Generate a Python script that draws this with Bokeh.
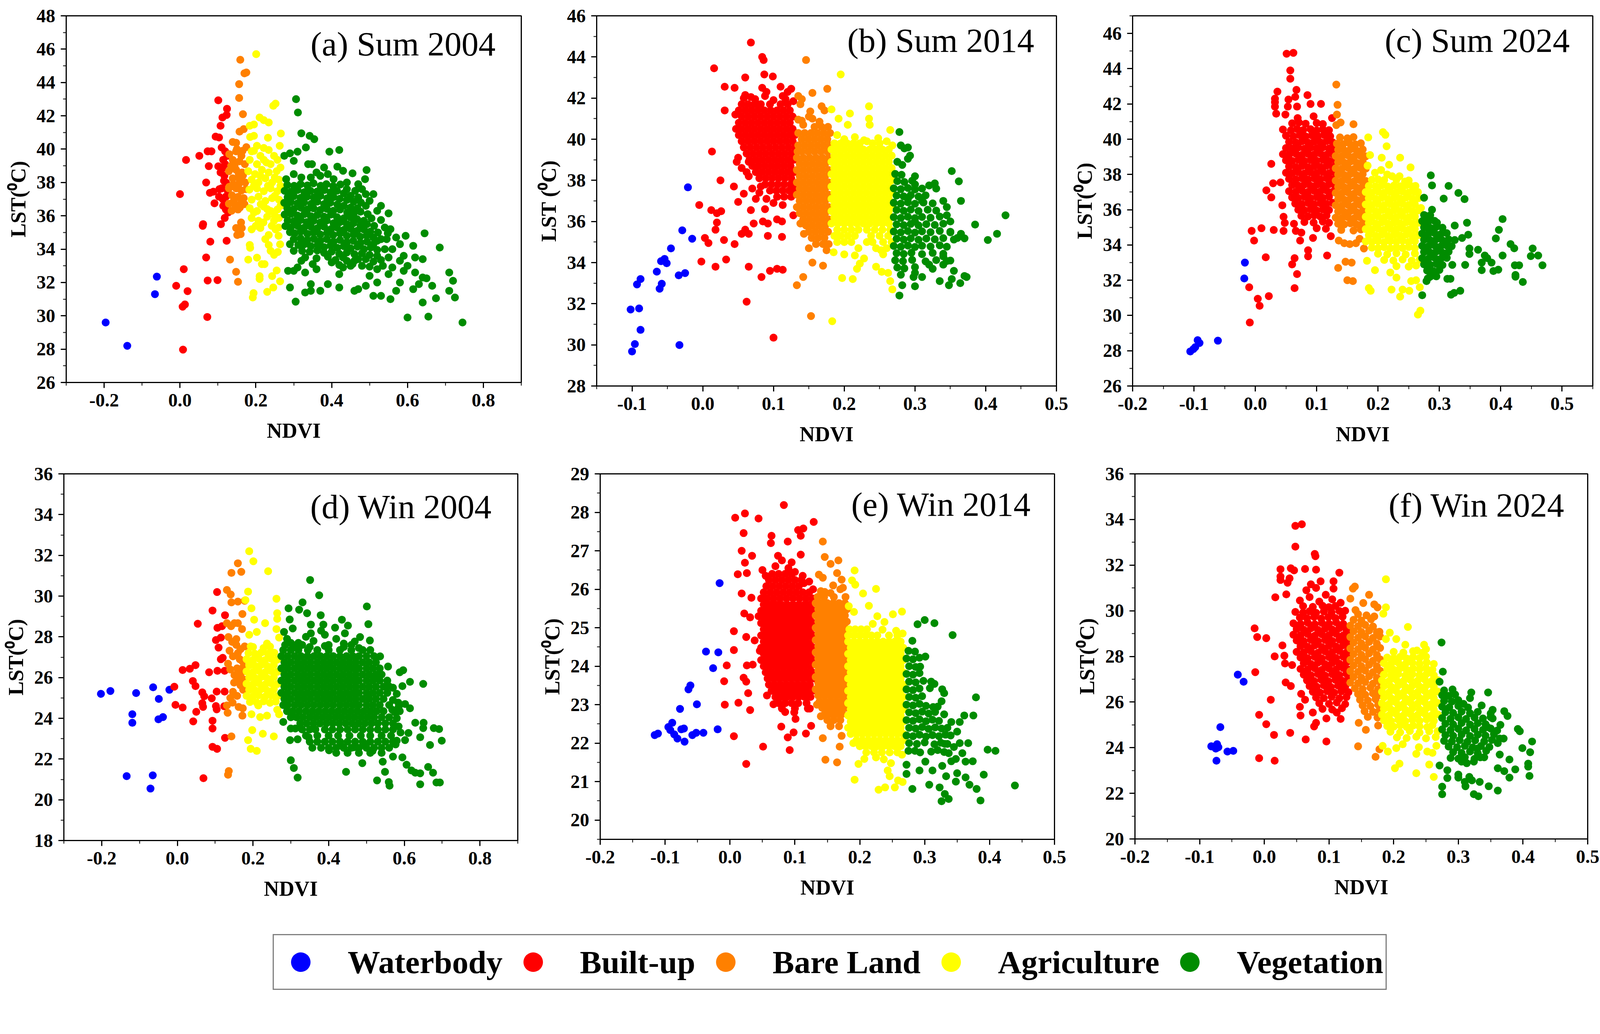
from bokeh.plotting import figure
from bokeh.models import (Range1d, FixedTicker, NumeralTickFormatter, Label,
                          Legend, LegendItem)
from bokeh.layouts import row, column
from bokeh.embed import file_html
from bokeh.resources import INLINE

S = 0.965  # overall pixel scale of the page

CLASSES = ["Waterbody", "Built-up", "Bare Land", "Agriculture", "Vegetation"]
COLORS = ["#0000ff", "#ff0000", "#ff8000", "#ffff00", "#008c00"]

# Each class: loose (NDVI, LST) points, plus for the dense cores rows of
# (LST, [NDVI, ...]).

# ---------------- (a) Sum 2004 ----------------
A_WATER = [(-0.196, 29.6), (-0.139, 28.2), (-0.066, 31.3), (-0.061, 32.35)]
A_BUILT = [
    (0.101, 42.93), (0.124, 42.42), (0.112, 41.9), (0.123, 42.05), (0.107, 41.4), (0.094, 40.75),
    (0.103, 40.7), (0.110, 40.1), (0.051, 39.6), (0.016, 39.35), (0.073, 39.87), (0.083, 39.87),
    (0.119, 39.87), (0.076, 38.98), (0.101, 38.97), (0.112, 38.85), (0.107, 38.6), (0.117, 38.4),
    (0.069, 38.0), (0.121, 38.0), (0.110, 37.65), (0.104, 37.6), (0.0, 37.3), (0.079, 37.38),
    (0.088, 37.45), (0.103, 37.15), (0.121, 37.15), (0.091, 36.75), (0.114, 36.6), (0.121, 36.38),
    (0.127, 36.2), (0.118, 35.87), (0.061, 35.5), (0.060, 35.4), (0.108, 35.5), (0.080, 34.45),
    (0.123, 34.5), (0.069, 33.5), (0.010, 32.8), (0.073, 32.12), (0.099, 32.14), (-0.010, 31.8),
    (0.020, 31.48), (0.013, 30.68), (0.007, 30.55), (0.072, 29.93), (0.008, 27.97), (0.114, 39.36),
    (0.119, 39.1), (0.125, 39.6), (0.116, 38.1), (0.113, 37.0), (0.126, 37.5)]
A_BARE = [
    (0.159, 45.36), (0.170, 44.55), (0.175, 44.6), (0.156, 43.9), (0.156, 43.07), (0.166, 42.1),
    (0.157, 41.05), (0.168, 41.2), (0.139, 40.43), (0.148, 40.38), (0.175, 40.12), (0.130, 39.7),
    (0.148, 39.87), (0.162, 39.6), (0.139, 39.36), (0.157, 39.27), (0.171, 39.1), (0.129, 38.68),
    (0.148, 38.76), (0.164, 38.6), (0.139, 38.25), (0.157, 38.17), (0.172, 38.0), (0.130, 37.74),
    (0.148, 37.65), (0.162, 37.52), (0.137, 37.23), (0.153, 37.14), (0.168, 37.06), (0.129, 36.72),
    (0.146, 36.63), (0.162, 36.8), (0.136, 36.3), (0.153, 36.38), (0.166, 38.42), (0.144, 39.0),
    (0.161, 35.6), (0.163, 35.27), (0.148, 35.27), (0.151, 34.85), (0.160, 34.9), (0.132, 33.37),
    (0.148, 32.64), (0.153, 32.04), (0.129, 37.65), (0.14, 37.9), (0.155, 38.5), (0.142, 36.9),
    (0.158, 36.5), (0.17, 36.7), (0.135, 39.0), (0.15, 40.0), (0.165, 39.9), (0.174, 37.6),
    (0.155, 37.9)]
A_AGRI = [
    (0.201, 45.7), (0.246, 42.6), (0.252, 42.73), (0.210, 41.9), (0.221, 41.74), (0.234, 41.6),
    (0.184, 41.4), (0.195, 41.48), (0.266, 40.94), (0.185, 40.73), (0.195, 40.8), (0.232, 40.68),
    (0.203, 40.2), (0.221, 40.07), (0.263, 40.2), (0.189, 39.87), (0.212, 39.6), (0.234, 39.95),
    (0.248, 39.6), (0.184, 39.36), (0.203, 39.1), (0.221, 39.36), (0.239, 39.1), (0.257, 39.36),
    (0.180, 38.68), (0.198, 38.5), (0.216, 38.76), (0.234, 38.6), (0.255, 38.68), (0.189, 38.17),
    (0.207, 38.0), (0.225, 38.25), (0.243, 38.0), (0.261, 38.17), (0.183, 37.57), (0.203, 37.65),
    (0.221, 37.48), (0.239, 37.65), (0.257, 37.48), (0.189, 36.97), (0.207, 37.15), (0.225, 36.89),
    (0.243, 37.06), (0.261, 36.97), (0.184, 36.46), (0.203, 36.29), (0.221, 36.55), (0.239, 36.29),
    (0.257, 36.38), (0.189, 35.87), (0.207, 35.7), (0.230, 35.95), (0.248, 35.7), (0.261, 35.87),
    (0.189, 35.19), (0.212, 35.27), (0.234, 34.85), (0.252, 35.19), (0.184, 34.25), (0.185, 34.08),
    (0.234, 34.25), (0.239, 33.9), (0.248, 33.66), (0.258, 33.83), (0.264, 34.29), (0.180, 33.37),
    (0.203, 33.49), (0.216, 33.1), (0.223, 33.1), (0.210, 32.38), (0.210, 32.21), (0.243, 32.38),
    (0.255, 32.72), (0.264, 32.07), (0.246, 31.7), (0.230, 31.44), (0.194, 31.36), (0.192, 31.1),
    (0.195, 39.9), (0.228, 39.2), (0.25, 38.3), (0.212, 38.4), (0.195, 37.8), (0.232, 37.8),
    (0.25, 37.2), (0.213, 36.7), (0.195, 36.2), (0.23, 36.4), (0.25, 36.0), (0.2, 35.4),
    (0.22, 35.6), (0.242, 35.4), (0.26, 35.3), (0.225, 34.6), (0.26, 34.8), (0.265, 38.9),
    (0.265, 37.8), (0.265, 36.6)]
A_VEG = [
    (0.306, 43.0), (0.311, 42.2), (0.320, 40.95), (0.342, 40.8), (0.354, 40.6), (0.332, 40.1),
    (0.394, 39.85), (0.42, 39.95), (0.31, 39.85), (0.29, 39.75), (0.275, 39.6), (0.30, 39.3),
    (0.338, 39.1), (0.348, 39.1), (0.38, 38.9), (0.415, 38.95), (0.43, 38.7), (0.455, 38.55),
    (0.492, 38.75), (0.488, 38.2), (0.36, 38.6), (0.37, 38.4), (0.39, 38.5), (0.405, 38.2),
    (0.44, 38.0), (0.47, 37.9), (0.28, 38.2), (0.30, 38.5), (0.32, 38.3), (0.345, 38.3),
    (0.283, 37.85), (0.301, 37.8), (0.318, 37.9), (0.336, 37.82), (0.352, 37.95), (0.371, 37.8),
    (0.386, 37.9), (0.404, 37.78), (0.423, 37.88), (0.44, 37.6), (0.462, 37.5), (0.48, 37.6),
    (0.276, 37.5), (0.293, 37.45), (0.31, 37.55), (0.328, 37.42), (0.344, 37.5), (0.362, 37.46),
    (0.381, 37.55), (0.397, 37.4), (0.414, 37.5), (0.432, 37.35), (0.45, 37.2), (0.47, 37.1),
    (0.49, 37.3), (0.284, 37.12), (0.30, 37.18), (0.318, 37.08), (0.335, 37.15), (0.353, 37.1),
    (0.37, 37.2), (0.388, 37.05), (0.405, 37.12), (0.421, 37.02), (0.44, 36.95), (0.458, 36.85),
    (0.477, 36.8), (0.275, 36.78), (0.292, 36.82), (0.31, 36.75), (0.327, 36.8), (0.346, 36.72),
    (0.362, 36.85), (0.38, 36.7), (0.396, 36.78), (0.415, 36.68), (0.432, 36.6), (0.45, 36.5),
    (0.468, 36.45), (0.49, 36.6), (0.5, 36.9), (0.283, 36.45), (0.30, 36.4), (0.319, 36.48),
    (0.336, 36.38), (0.352, 36.45), (0.37, 36.35), (0.387, 36.42), (0.404, 36.3), (0.422, 36.38),
    (0.441, 36.2), (0.458, 36.15), (0.476, 36.25), (0.495, 36.1), (0.52, 36.3), (0.276, 36.08),
    (0.293, 36.12), (0.31, 36.02), (0.328, 36.1), (0.345, 35.98), (0.362, 36.05), (0.38, 35.95),
    (0.398, 36.08), (0.414, 35.92), (0.432, 35.85), (0.45, 35.9), (0.467, 35.8), (0.485, 35.7),
    (0.505, 35.85), (0.53, 35.75), (0.284, 35.72), (0.30, 35.68), (0.318, 35.75), (0.334, 35.62),
    (0.352, 35.7), (0.37, 35.6), (0.387, 35.72), (0.405, 35.55), (0.422, 35.62), (0.44, 35.5),
    (0.457, 35.55), (0.476, 35.42), (0.493, 35.5), (0.512, 35.4), (0.54, 35.3), (0.278, 35.38),
    (0.292, 35.3), (0.31, 35.4), (0.327, 35.28), (0.345, 35.35), (0.362, 35.25), (0.38, 35.35),
    (0.398, 35.2), (0.414, 35.3), (0.432, 35.15), (0.45, 35.22), (0.467, 35.1), (0.485, 35.18),
    (0.502, 35.05), (0.522, 35.0), (0.548, 34.95), (0.29, 35.02), (0.302, 34.95), (0.318, 35.05),
    (0.336, 34.92), (0.352, 35.0), (0.37, 34.88), (0.388, 34.98), (0.404, 34.85), (0.422, 34.95),
    (0.44, 34.8), (0.458, 34.88), (0.475, 34.75), (0.492, 34.82), (0.51, 34.7), (0.53, 34.6),
    (0.30, 34.6), (0.318, 34.65), (0.336, 34.55), (0.353, 34.62), (0.37, 34.5), (0.387, 34.6),
    (0.405, 34.45), (0.422, 34.55), (0.44, 34.42), (0.457, 34.5), (0.476, 34.38), (0.493, 34.45),
    (0.51, 34.3), (0.52, 34.5), (0.312, 34.25), (0.328, 34.3), (0.345, 34.18), (0.363, 34.25),
    (0.38, 34.12), (0.397, 34.22), (0.415, 34.08), (0.432, 34.18), (0.45, 34.05), (0.468, 34.15),
    (0.485, 34.0), (0.503, 34.1), (0.52, 33.95), (0.54, 34.0), (0.322, 33.9), (0.342, 33.85),
    (0.362, 33.92), (0.38, 33.78), (0.40, 33.85), (0.42, 33.72), (0.44, 33.8), (0.46, 33.7),
    (0.48, 33.75), (0.50, 33.65), (0.52, 33.6), (0.33, 33.5), (0.36, 33.45), (0.39, 33.55),
    (0.41, 33.35), (0.43, 33.5), (0.46, 33.3), (0.49, 33.4), (0.51, 33.25), (0.53, 33.35),
    (0.35, 33.1), (0.40, 33.2), (0.42, 33.05), (0.45, 33.0), (0.50, 32.95), (0.52, 32.8),
    (0.51, 37.3), (0.53, 36.6), (0.55, 36.15), (0.555, 35.2), (0.57, 34.7), (0.58, 34.3),
    (0.595, 34.8), (0.615, 34.2), (0.645, 34.95), (0.685, 34.1), (0.59, 33.6), (0.62, 33.5),
    (0.64, 33.4), (0.60, 33.0), (0.62, 32.6), (0.64, 32.3), (0.65, 32.25), (0.665, 31.8),
    (0.71, 32.6), (0.72, 32.1), (0.71, 31.5), (0.725, 31.1), (0.675, 31.05), (0.615, 31.6),
    (0.63, 31.9), (0.64, 30.8), (0.60, 29.9), (0.655, 29.95), (0.745, 29.6), (0.555, 31.0),
    (0.57, 31.5), (0.58, 32.0), (0.55, 32.5), (0.53, 31.2), (0.51, 31.2), (0.52, 32.0),
    (0.49, 31.8), (0.50, 32.4), (0.47, 31.6), (0.46, 31.5), (0.42, 31.7), (0.39, 31.9),
    (0.37, 31.5), (0.345, 31.5), (0.33, 31.4), (0.305, 30.85), (0.29, 31.7), (0.285, 32.7),
    (0.30, 32.7), (0.345, 31.9), (0.42, 32.5), (0.43, 32.9), (0.44, 33.3), (0.455, 33.1),
    (0.48, 33.0), (0.47, 33.4), (0.535, 33.0), (0.55, 33.5), (0.56, 34.0), (0.545, 34.6),
    (0.56, 32.9), (0.59, 32.7), (0.58, 33.3), (0.36, 32.8), (0.32, 33.3), (0.30, 33.9),
    (0.29, 34.3), (0.31, 32.9), (0.33, 32.6)]

# ---------------- (b) Sum 2014 ----------------
B_WATER = [
    (-0.1, 29.68), (-0.096, 30.04), (-0.102, 31.72), (-0.090, 31.77), (-0.088, 30.73), (-0.093, 32.94),
    (-0.088, 33.2), (-0.061, 32.73), (-0.058, 32.97), (-0.065, 33.56), (-0.059, 34.07), (-0.054, 34.18),
    (-0.051, 33.97), (-0.045, 34.69), (-0.034, 33.38), (-0.025, 33.49), (-0.029, 35.57), (-0.015, 35.16),
    (-0.021, 37.66), (-0.033, 29.99)]
B_BUILT = [
    (0.068, 44.7), (0.084, 44.0), (0.086, 43.85), (0.016, 43.45), (0.06, 43.0), (0.087, 43.15),
    (0.099, 43.05), (0.031, 42.55), (0.045, 42.5), (0.084, 42.5), (0.11, 42.55), (0.12, 42.3),
    (0.125, 42.45), (0.06, 42.15), (0.068, 42.05), (0.088, 42.1), (0.031, 41.4), (0.077, 41.7),
    (0.117, 41.95), (0.013, 39.4), (0.05, 39.1), (0.048, 38.9), (0.025, 38.0), (0.065, 38.2),
    (0.044, 37.7), (0.058, 37.35), (0.075, 37.1), (0.09, 37.1), (-0.005, 36.8), (0.012, 36.55),
    (0.02, 36.4), (0.026, 36.5), (0.05, 36.95), (0.068, 36.55), (0.088, 36.6), (0.1, 36.9),
    (0.113, 36.8), (0.128, 36.3), (0.02, 35.95), (0.018, 35.6), (0.055, 35.4), (0.06, 35.6),
    (0.065, 35.4), (0.072, 35.9), (0.085, 36.0), (0.092, 35.9), (0.105, 36.1), (0.112, 36.0),
    (0.003, 35.2), (0.008, 34.95), (0.03, 35.1), (0.045, 34.9), (0.092, 35.3), (0.112, 35.25),
    (-0.002, 34.05), (0.018, 33.8), (0.033, 34.15), (0.065, 33.8), (0.095, 33.6), (0.105, 33.7),
    (0.113, 33.65), (0.083, 33.3), (0.062, 32.1), (0.1, 30.35), (0.065, 38.9), (0.062, 38.4),
    (0.07, 37.6), (0.08, 37.4), (0.058, 42.0), (0.074, 41.95), (0.1, 41.9), (0.113, 42.1),
    (0.128, 41.85), (0.09, 42.3), (0.047, 40.5), (0.046, 41.2), (0.055, 38.6), (0.082, 37.7)]
B_BUILT_ROWS = [
    (41.7, [0.055, 0.064, 0.073, 0.082, 0.095, 0.11, 0.12]),
    (41.4, [0.051, 0.06, 0.069, 0.078, 0.087, 0.096, 0.105, 0.114, 0.123]),
    (41.1, [0.055, 0.064, 0.073, 0.082, 0.091, 0.1, 0.109, 0.118, 0.127]),
    (40.8, [0.051, 0.06, 0.069, 0.078, 0.087, 0.096, 0.105, 0.114, 0.123]),
    (40.5, [0.055, 0.064, 0.073, 0.082, 0.091, 0.1, 0.109, 0.118, 0.127]),
    (40.2, [0.051, 0.06, 0.069, 0.078, 0.087, 0.096, 0.105, 0.114, 0.123, 0.13]),
    (39.9, [0.055, 0.064, 0.073, 0.082, 0.091, 0.1, 0.109, 0.118, 0.127]),
    (39.6, [0.058, 0.067, 0.076, 0.085, 0.094, 0.103, 0.112, 0.121, 0.13]),
    (39.3, [0.062, 0.071, 0.08, 0.089, 0.098, 0.107, 0.116, 0.125]),
    (39.0, [0.066, 0.075, 0.084, 0.093, 0.102, 0.111, 0.12, 0.129]),
    (38.7, [0.07, 0.079, 0.088, 0.097, 0.106, 0.115, 0.124]),
    (38.4, [0.075, 0.084, 0.093, 0.102, 0.111, 0.12, 0.129]),
    (38.1, [0.08, 0.089, 0.098, 0.107, 0.116, 0.125]),
    (37.8, [0.088, 0.097, 0.106, 0.115, 0.124, 0.13]),
    (37.5, [0.095, 0.104, 0.113, 0.122, 0.13]),
    (37.2, [0.105, 0.115, 0.125])]
B_BARE = [
    (0.146, 43.85), (0.176, 42.45), (0.155, 42.25), (0.135, 42.1), (0.14, 41.95), (0.138, 41.7),
    (0.168, 41.6), (0.172, 41.4), (0.152, 41.35), (0.155, 41.0), (0.14, 40.9), (0.135, 40.95),
    (0.142, 33.3), (0.133, 32.9), (0.153, 31.4), (0.155, 34.0), (0.17, 33.85), (0.175, 34.6),
    (0.142, 40.7), (0.165, 40.85), (0.15, 41.1), (0.138, 35.9), (0.143, 35.4), (0.15, 34.7)]
B_BARE_ROWS = [
    (40.6, [0.158, 0.168, 0.177]),
    (40.3, [0.135, 0.144, 0.153, 0.162, 0.171, 0.18]),
    (40.0, [0.14, 0.149, 0.158, 0.167, 0.176]),
    (39.7, [0.135, 0.144, 0.153, 0.162, 0.171, 0.18]),
    (39.4, [0.134, 0.14, 0.149, 0.158, 0.167, 0.176]),
    (39.1, [0.133, 0.142, 0.151, 0.16, 0.169, 0.178]),
    (38.8, [0.137, 0.146, 0.155, 0.164, 0.173]),
    (38.5, [0.133, 0.142, 0.151, 0.16, 0.169, 0.178]),
    (38.2, [0.137, 0.146, 0.155, 0.164, 0.173]),
    (37.9, [0.133, 0.142, 0.151, 0.16, 0.169, 0.178]),
    (37.6, [0.137, 0.146, 0.155, 0.164, 0.173]),
    (37.3, [0.133, 0.142, 0.151, 0.16, 0.169, 0.178]),
    (37.0, [0.137, 0.146, 0.155, 0.164, 0.173]),
    (36.7, [0.133, 0.142, 0.151, 0.16, 0.169, 0.178]),
    (36.4, [0.137, 0.146, 0.155, 0.164, 0.173]),
    (36.1, [0.142, 0.151, 0.16, 0.169, 0.178]),
    (35.8, [0.146, 0.155, 0.164, 0.173]),
    (35.5, [0.15, 0.159, 0.168, 0.177]),
    (35.2, [0.154, 0.163, 0.172]),
    (34.9, [0.16, 0.17, 0.178])]
B_AGRI = [
    (0.195, 43.15), (0.235, 41.6), (0.182, 41.45), (0.208, 41.25), (0.192, 41.0), (0.235, 41.0),
    (0.236, 40.7), (0.205, 40.7), (0.265, 40.45), (0.19, 40.2), (0.232, 39.9), (0.2, 34.4),
    (0.215, 34.35), (0.228, 34.2), (0.222, 33.95), (0.218, 33.7), (0.255, 34.4), (0.262, 33.5),
    (0.253, 33.55), (0.245, 33.8), (0.265, 33.1), (0.268, 32.7), (0.197, 33.25), (0.212, 33.2),
    (0.183, 31.15), (0.185, 34.5), (0.19, 35.0), (0.2, 40.0), (0.215, 40.1), (0.228, 39.95),
    (0.248, 40.05), (0.26, 39.9), (0.268, 39.7), (0.186, 35.3), (0.232, 35.0), (0.252, 34.6)]
B_AGRI_ROWS = [
    (39.8, [0.186, 0.195, 0.204, 0.213, 0.222, 0.24, 0.25]),
    (39.5, [0.182, 0.191, 0.2, 0.209, 0.218, 0.227, 0.236, 0.245, 0.254, 0.263]),
    (39.2, [0.186, 0.195, 0.204, 0.213, 0.222, 0.231, 0.24, 0.249, 0.258, 0.267]),
    (38.9, [0.182, 0.191, 0.2, 0.209, 0.218, 0.227, 0.236, 0.245, 0.254, 0.263]),
    (38.6, [0.186, 0.195, 0.204, 0.213, 0.222, 0.231, 0.24, 0.249, 0.258, 0.267]),
    (38.3, [0.182, 0.191, 0.2, 0.209, 0.218, 0.227, 0.236, 0.245, 0.254, 0.263]),
    (38.0, [0.186, 0.195, 0.204, 0.213, 0.222, 0.231, 0.24, 0.249, 0.258, 0.267]),
    (37.7, [0.182, 0.191, 0.2, 0.209, 0.218, 0.227, 0.236, 0.245, 0.254, 0.263]),
    (37.4, [0.186, 0.195, 0.204, 0.213, 0.222, 0.231, 0.24, 0.249, 0.258, 0.267]),
    (37.1, [0.182, 0.191, 0.2, 0.209, 0.218, 0.227, 0.236, 0.245, 0.254, 0.263]),
    (36.8, [0.186, 0.195, 0.204, 0.213, 0.222, 0.231, 0.24, 0.249, 0.258, 0.267]),
    (36.5, [0.182, 0.191, 0.2, 0.209, 0.218, 0.227, 0.236, 0.245, 0.254, 0.263]),
    (36.2, [0.186, 0.195, 0.204, 0.213, 0.222, 0.231, 0.24, 0.249, 0.258, 0.267]),
    (35.9, [0.182, 0.191, 0.2, 0.209, 0.218, 0.227, 0.236, 0.245, 0.254, 0.263]),
    (35.6, [0.19, 0.2, 0.21, 0.22, 0.232, 0.243, 0.254, 0.265]),
    (35.3, [0.195, 0.205, 0.215, 0.238, 0.25, 0.262]),
    (35.0, [0.2, 0.21, 0.24, 0.255, 0.267]),
    (34.7, [0.22, 0.245, 0.26])]
B_VEG = [
    (0.278, 40.35), (0.28, 39.7), (0.285, 39.55), (0.29, 39.6), (0.293, 39.2), (0.29, 39.05),
    (0.275, 38.9), (0.282, 38.75), (0.352, 38.45), (0.362, 37.95), (0.365, 37.0), (0.385, 35.85),
    (0.403, 35.1), (0.416, 35.4), (0.428, 36.3), (0.278, 32.4), (0.282, 32.9), (0.3, 32.85),
    (0.335, 33.1), (0.348, 32.9), (0.352, 33.2), (0.364, 33.0), (0.37, 33.35), (0.373, 33.3),
    (0.325, 33.7), (0.298, 33.3), (0.3, 33.5),
    (0.272, 38.31), (0.281, 38.27), (0.275, 37.96), (0.285, 37.92), (0.296, 37.98), (0.27, 37.61),
    (0.28, 37.57), (0.29, 37.63), (0.3, 37.56), (0.274, 37.26), (0.284, 37.22), (0.294, 37.28),
    (0.305, 37.21), (0.315, 37.27), (0.27, 36.91), (0.28, 36.87), (0.29, 36.93), (0.3, 36.86),
    (0.312, 36.92), (0.325, 36.88), (0.274, 36.56), (0.284, 36.52), (0.294, 36.58), (0.305, 36.51),
    (0.318, 36.57), (0.33, 36.53), (0.27, 36.21), (0.28, 36.17), (0.29, 36.23), (0.3, 36.16),
    (0.31, 36.22), (0.322, 36.18), (0.335, 36.24), (0.274, 35.86), (0.284, 35.82), (0.294, 35.88),
    (0.305, 35.81), (0.316, 35.87), (0.328, 35.83), (0.34, 35.89), (0.27, 35.51), (0.28, 35.47),
    (0.29, 35.53), (0.3, 35.46), (0.31, 35.52), (0.322, 35.48), (0.335, 35.54), (0.35, 35.47),
    (0.274, 35.16), (0.284, 35.12), (0.294, 35.18), (0.305, 35.11), (0.316, 35.17), (0.328, 35.13),
    (0.34, 35.19), (0.355, 35.12), (0.37, 35.18), (0.27, 34.81), (0.28, 34.77), (0.29, 34.83),
    (0.3, 34.76), (0.31, 34.82), (0.322, 34.78), (0.335, 34.84), (0.345, 34.77), (0.274, 34.46),
    (0.284, 34.42), (0.295, 34.48), (0.31, 34.41), (0.325, 34.47), (0.34, 34.43), (0.272, 34.11),
    (0.283, 34.07), (0.296, 34.13), (0.315, 34.06), (0.33, 34.12), (0.345, 34.08), (0.275, 33.76),
    (0.285, 33.72), (0.3, 33.78), (0.28, 33.41),
    (0.3, 37.8), (0.31, 37.6), (0.32, 37.75), (0.33, 37.6), (0.328, 37.85), (0.31, 37.0),
    (0.34, 37.0), (0.345, 36.7), (0.35, 36.0), (0.35, 35.5), (0.36, 35.2), (0.365, 35.4),
    (0.345, 36.3), (0.34, 34.3), (0.35, 34.1), (0.355, 33.6), (0.34, 33.9), (0.32, 33.9),
    (0.31, 33.3), (0.29, 37.1), (0.3, 38.2), (0.3, 36.0)]

# ---------------- (c) Sum 2024 ----------------
C_WATER = [(-0.106, 27.96), (-0.101, 28.09), (-0.098, 28.2), (-0.094, 28.6), (-0.091, 28.44),
           (-0.061, 28.57), (-0.017, 33.0), (-0.018, 32.1)]
C_BUILT = [
    (0.051, 44.85), (0.062, 44.9), (0.057, 43.9), (0.057, 43.43), (0.036, 42.7), (0.067, 42.8),
    (0.085, 42.5), (0.032, 42.3), (0.032, 42.1), (0.054, 42.25), (0.065, 42.4), (0.090, 42.0),
    (0.107, 42.0), (0.032, 41.85), (0.053, 41.85), (0.068, 41.85), (0.034, 41.45), (0.049, 41.4),
    (0.069, 41.2), (0.095, 41.3), (0.125, 41.2), (0.026, 38.6), (0.029, 37.5), (0.041, 37.55),
    (0.018, 37.1), (0.026, 36.7), (0.044, 36.25), (0.046, 35.6), (0.048, 35.25), (0.010, 34.95),
    (0.030, 34.85), (-0.006, 34.8), (-0.002, 34.25), (0.046, 34.8), (0.063, 35.2), (0.066, 34.8),
    (0.075, 34.7), (0.073, 34.25), (0.094, 34.4), (0.123, 34.5), (0.017, 33.3), (0.086, 33.7),
    (0.086, 33.36), (0.117, 33.4), (0.064, 33.25), (0.060, 32.9), (0.068, 32.35), (0.064, 31.55),
    (0.022, 31.1), (-0.010, 31.6), (0.004, 30.95), (0.007, 30.55), (-0.009, 29.6),
    (0.06, 40.9), (0.071, 40.95), (0.082, 40.88), (0.1, 40.92), (0.11, 40.86), (0.045, 40.55),
    (0.058, 40.5), (0.068, 40.58), (0.078, 40.52), (0.09, 40.57), (0.1, 40.5), (0.11, 40.56),
    (0.12, 40.51), (0.05, 40.2), (0.062, 40.17), (0.072, 40.23), (0.082, 40.16), (0.092, 40.22),
    (0.102, 40.18), (0.112, 40.24), (0.122, 40.17), (0.055, 39.85), (0.066, 39.82), (0.076, 39.88),
    (0.086, 39.81), (0.096, 39.87), (0.106, 39.83), (0.116, 39.89), (0.126, 39.82), (0.05, 39.5),
    (0.06, 39.47), (0.07, 39.53), (0.08, 39.46), (0.09, 39.52), (0.1, 39.48), (0.11, 39.54),
    (0.12, 39.47), (0.13, 39.52), (0.045, 39.15), (0.055, 39.12), (0.066, 39.18), (0.076, 39.11),
    (0.086, 39.17), (0.096, 39.13), (0.106, 39.19), (0.116, 39.12), (0.126, 39.16), (0.05, 38.8),
    (0.06, 38.77), (0.07, 38.83), (0.08, 38.76), (0.09, 38.82), (0.1, 38.78), (0.11, 38.84),
    (0.12, 38.77), (0.13, 38.81), (0.055, 38.45), (0.066, 38.42), (0.076, 38.48), (0.086, 38.41),
    (0.096, 38.47), (0.106, 38.43), (0.116, 38.49), (0.126, 38.42), (0.05, 38.1), (0.06, 38.07),
    (0.07, 38.13), (0.08, 38.06), (0.09, 38.12), (0.1, 38.08), (0.11, 38.14), (0.12, 38.07),
    (0.13, 38.11), (0.055, 37.75), (0.066, 37.72), (0.076, 37.78), (0.086, 37.71), (0.096, 37.77),
    (0.106, 37.73), (0.116, 37.79), (0.126, 37.72), (0.06, 37.4), (0.07, 37.37), (0.08, 37.43),
    (0.09, 37.36), (0.1, 37.42), (0.11, 37.38), (0.12, 37.44), (0.13, 37.37), (0.055, 37.05),
    (0.066, 37.02), (0.076, 37.08), (0.086, 37.01), (0.096, 37.07), (0.106, 37.03), (0.116, 37.09),
    (0.126, 37.02), (0.06, 36.7), (0.07, 36.67), (0.08, 36.73), (0.09, 36.66), (0.1, 36.72),
    (0.11, 36.68), (0.12, 36.74), (0.065, 36.35), (0.076, 36.32), (0.086, 36.38), (0.096, 36.31),
    (0.106, 36.37), (0.116, 36.33), (0.126, 36.39), (0.07, 36.0), (0.08, 35.97), (0.09, 36.03),
    (0.1, 35.96), (0.11, 36.02), (0.12, 35.98), (0.075, 35.65), (0.086, 35.62), (0.096, 35.68),
    (0.106, 35.61), (0.116, 35.67), (0.08, 35.3), (0.095, 35.27), (0.11, 35.33), (0.12, 35.26),
    (0.1, 34.95), (0.115, 34.92)]
C_BARE = [
    (0.132, 43.1), (0.134, 41.95), (0.133, 41.4), (0.139, 40.95), (0.132, 40.8), (0.160, 40.85),
    (0.135, 32.7), (0.147, 33.05), (0.157, 33.0), (0.150, 32.0), (0.159, 31.95), (0.136, 34.25),
    (0.145, 34.1), (0.154, 34.05), (0.164, 34.1), (0.17, 34.35), (0.177, 33.8),
    (0.138, 40.1), (0.15, 40.05), (0.16, 40.12), (0.133, 39.75), (0.143, 39.72), (0.153, 39.78),
    (0.163, 39.71), (0.172, 39.77), (0.135, 39.4), (0.145, 39.37), (0.155, 39.43), (0.165, 39.36),
    (0.175, 39.42), (0.131, 39.05), (0.141, 39.02), (0.151, 39.08), (0.161, 39.01), (0.171, 39.07),
    (0.18, 39.03), (0.135, 38.7), (0.145, 38.67), (0.155, 38.73), (0.165, 38.66), (0.175, 38.72),
    (0.131, 38.35), (0.141, 38.32), (0.151, 38.38), (0.161, 38.31), (0.171, 38.37), (0.18, 38.33),
    (0.135, 38.0), (0.145, 37.97), (0.155, 38.03), (0.165, 37.96), (0.175, 38.02), (0.131, 37.65),
    (0.141, 37.62), (0.151, 37.68), (0.161, 37.61), (0.171, 37.67), (0.18, 37.63), (0.135, 37.3),
    (0.145, 37.27), (0.155, 37.33), (0.165, 37.26), (0.175, 37.32), (0.131, 36.95), (0.141, 36.92),
    (0.151, 36.98), (0.161, 36.91), (0.171, 36.97), (0.18, 36.93), (0.135, 36.6), (0.145, 36.57),
    (0.155, 36.63), (0.165, 36.56), (0.175, 36.62), (0.131, 36.25), (0.141, 36.22), (0.151, 36.28),
    (0.161, 36.21), (0.171, 36.27), (0.18, 36.23), (0.135, 35.9), (0.145, 35.87), (0.155, 35.93),
    (0.165, 35.86), (0.175, 35.92), (0.131, 35.55), (0.141, 35.52), (0.151, 35.58), (0.161, 35.51),
    (0.171, 35.57), (0.135, 35.2), (0.145, 35.17), (0.155, 35.23), (0.165, 35.16), (0.175, 35.22),
    (0.14, 34.85), (0.16, 34.82), (0.172, 34.88)]
C_AGRI = [
    (0.208, 40.4), (0.212, 40.25), (0.184, 40.1), (0.214, 39.6), (0.187, 39.1), (0.206, 38.95),
    (0.236, 38.95), (0.218, 38.55), (0.253, 38.4), (0.205, 38.25), (0.223, 37.9), (0.235, 37.9),
    (0.244, 37.6), (0.261, 37.35), (0.265, 37.0), (0.182, 33.1), (0.195, 32.57), (0.220, 32.44),
    (0.230, 32.15), (0.185, 31.55), (0.188, 31.4), (0.222, 31.47), (0.236, 31.07), (0.240, 31.47),
    (0.251, 31.4), (0.254, 31.95), (0.262, 32.0), (0.268, 31.6), (0.265, 30.05), (0.269, 30.27),
    (0.19, 37.7), (0.2, 37.72), (0.21, 37.68), (0.23, 37.71), (0.25, 37.66), (0.185, 37.35),
    (0.196, 37.32), (0.206, 37.38), (0.216, 37.31), (0.226, 37.37), (0.236, 37.33), (0.246, 37.39),
    (0.256, 37.32), (0.18, 37.0), (0.19, 36.97), (0.2, 37.03), (0.21, 36.96), (0.22, 37.02),
    (0.23, 36.98), (0.24, 37.04), (0.25, 36.97), (0.26, 37.01), (0.185, 36.65), (0.196, 36.62),
    (0.206, 36.68), (0.216, 36.61), (0.226, 36.67), (0.236, 36.63), (0.246, 36.69), (0.256, 36.62),
    (0.266, 36.66), (0.18, 36.3), (0.19, 36.27), (0.2, 36.33), (0.21, 36.26), (0.22, 36.32),
    (0.23, 36.28), (0.24, 36.34), (0.25, 36.27), (0.26, 36.31), (0.185, 35.95), (0.196, 35.92),
    (0.206, 35.98), (0.216, 35.91), (0.226, 35.97), (0.236, 35.93), (0.246, 35.99), (0.256, 35.92),
    (0.266, 35.96), (0.18, 35.6), (0.19, 35.57), (0.2, 35.63), (0.21, 35.56), (0.22, 35.62),
    (0.23, 35.58), (0.24, 35.64), (0.25, 35.57), (0.26, 35.61), (0.185, 35.25), (0.196, 35.22),
    (0.206, 35.28), (0.216, 35.21), (0.226, 35.27), (0.236, 35.23), (0.246, 35.29), (0.256, 35.22),
    (0.266, 35.26), (0.18, 34.9), (0.19, 34.87), (0.2, 34.93), (0.21, 34.86), (0.22, 34.92),
    (0.23, 34.88), (0.24, 34.94), (0.25, 34.87), (0.26, 34.91), (0.185, 34.55), (0.196, 34.52),
    (0.206, 34.58), (0.216, 34.51), (0.226, 34.57), (0.236, 34.53), (0.246, 34.59), (0.256, 34.52),
    (0.266, 34.56), (0.18, 34.2), (0.19, 34.17), (0.2, 34.23), (0.21, 34.16), (0.22, 34.22),
    (0.23, 34.18), (0.24, 34.24), (0.25, 34.17), (0.26, 34.21), (0.19, 33.85), (0.2, 33.82),
    (0.21, 33.88), (0.22, 33.81), (0.23, 33.87), (0.24, 33.83), (0.25, 33.89), (0.26, 33.82),
    (0.2, 33.5), (0.215, 33.47), (0.23, 33.53), (0.245, 33.46), (0.26, 33.52), (0.21, 33.15),
    (0.225, 33.12), (0.24, 33.18), (0.255, 33.11), (0.268, 33.17), (0.23, 32.8), (0.25, 32.77),
    (0.262, 32.83), (0.195, 38.1), (0.183, 38.5), (0.215, 38.0), (0.27, 36.1)]
C_VEG = [
    (0.286, 37.95), (0.288, 37.38), (0.275, 36.68), (0.315, 37.35), (0.331, 36.95), (0.341, 36.6),
    (0.307, 36.63), (0.288, 36.0), (0.277, 35.66), (0.296, 35.26), (0.278, 35.18), (0.282, 34.94),
    (0.325, 35.1), (0.345, 35.26), (0.347, 34.58), (0.403, 35.47), (0.397, 34.86), (0.392, 34.37),
    (0.416, 34.05), (0.422, 33.81), (0.403, 33.4), (0.452, 33.8), (0.449, 33.37), (0.461, 33.4),
    (0.468, 32.85), (0.349, 33.8), (0.349, 33.49), (0.363, 33.73), (0.374, 33.4), (0.369, 33.0),
    (0.369, 32.57), (0.378, 33.25), (0.385, 33.0), (0.388, 32.52), (0.396, 32.6), (0.423, 32.85),
    (0.424, 32.3), (0.43, 32.85), (0.424, 32.2), (0.436, 31.9), (0.342, 32.87), (0.321, 32.87),
    (0.318, 32.08), (0.313, 32.08), (0.319, 31.18), (0.324, 31.28), (0.334, 31.4), (0.272, 31.15),
    (0.279, 31.95), (0.281, 32.1), (0.337, 34.4),
    (0.275, 35.7), (0.285, 35.68), (0.272, 35.35), (0.282, 35.33), (0.292, 35.37), (0.275, 35.0),
    (0.285, 34.97), (0.295, 35.03), (0.305, 34.98), (0.272, 34.65), (0.282, 34.62), (0.292, 34.68),
    (0.302, 34.61), (0.312, 34.67), (0.275, 34.3), (0.285, 34.27), (0.295, 34.33), (0.305, 34.26),
    (0.315, 34.32), (0.325, 34.28), (0.272, 33.95), (0.282, 33.92), (0.292, 33.98), (0.302, 33.91),
    (0.312, 33.97), (0.32, 33.93), (0.275, 33.6), (0.285, 33.57), (0.295, 33.63), (0.305, 33.56),
    (0.315, 33.62), (0.272, 33.25), (0.282, 33.22), (0.292, 33.28), (0.302, 33.21), (0.312, 33.27),
    (0.275, 32.9), (0.285, 32.87), (0.295, 32.93), (0.305, 32.86), (0.28, 32.55), (0.29, 32.52),
    (0.3, 32.58), (0.285, 32.2), (0.295, 32.22)]

# ---------------- (d) Win 2004 ----------------
D_WATER = [
    (-0.202, 25.2), (-0.177, 25.34), (-0.109, 25.24), (-0.064, 25.52), (-0.021, 25.4), (-0.049, 24.95),
    (-0.119, 24.2), (-0.119, 23.78), (-0.050, 23.95), (-0.038, 24.06), (-0.134, 21.16), (-0.065, 21.2),
    (-0.071, 20.55)]
D_BUILT = [
    (0.105, 30.2), (0.093, 29.29), (0.126, 29.06), (0.054, 28.64), (0.106, 28.44), (0.118, 28.52),
    (0.102, 27.84), (0.115, 27.96), (0.109, 27.47), (0.120, 26.97), (0.115, 26.9), (0.125, 26.33),
    (0.106, 26.33), (0.048, 26.61), (0.033, 26.43), (0.014, 26.37), (0.084, 26.26), (-0.008, 25.55),
    (0.041, 25.83), (0.048, 25.58), (0.104, 25.31), (0.125, 25.31), (0.066, 25.27), (0.071, 25.08),
    (0.091, 24.98), (-0.005, 24.66), (0.014, 24.53), (0.066, 24.74), (0.068, 24.56), (0.102, 24.6),
    (0.104, 24.44), (0.124, 24.59), (0.050, 24.32), (0.042, 23.85), (0.093, 23.88), (0.093, 23.5),
    (0.126, 23.04), (0.093, 22.6), (0.105, 22.5), (0.069, 21.06)]
D_BARE = [
    (0.160, 31.61), (0.143, 31.14), (0.169, 31.19), (0.131, 30.3), (0.141, 30.08), (0.143, 29.69),
    (0.160, 29.73), (0.178, 29.77), (0.172, 29.12), (0.131, 28.67), (0.142, 28.52), (0.160, 28.67),
    (0.171, 28.38), (0.135, 27.99), (0.156, 27.6), (0.167, 27.39), (0.178, 27.53), (0.138, 27.32),
    (0.147, 27.04), (0.165, 26.9), (0.134, 26.68), (0.174, 26.51), (0.151, 26.12), (0.161, 25.95),
    (0.167, 25.62), (0.147, 25.3), (0.174, 25.4), (0.131, 24.63), (0.146, 24.77), (0.162, 24.56),
    (0.173, 24.49), (0.133, 24.27), (0.172, 24.13), (0.143, 23.11), (0.136, 21.41), (0.134, 21.23),
    (0.156, 27.89), (0.151, 28.67), (0.145, 27.75), (0.16, 27.2), (0.172, 26.8), (0.14, 26.4),
    (0.158, 26.45), (0.168, 26.2), (0.15, 25.75), (0.176, 25.9), (0.158, 25.1), (0.14, 25.0)]
D_AGRI = [
    (0.190, 32.2), (0.201, 31.71), (0.240, 31.22), (0.187, 30.22), (0.180, 29.8), (0.196, 29.4),
    (0.262, 29.87), (0.264, 29.16), (0.264, 28.88), (0.203, 28.84), (0.232, 28.67), (0.190, 28.1),
    (0.210, 28.24), (0.262, 28.38), (0.269, 27.96), (0.194, 27.53), (0.237, 27.67), (0.246, 27.25),
    (0.196, 24.2), (0.219, 24.06), (0.237, 24.13), (0.214, 24.63), (0.264, 24.42), (0.269, 24.2),
    (0.198, 23.42), (0.226, 23.24), (0.255, 23.11), (0.187, 22.93), (0.194, 22.5), (0.210, 22.4),
    (0.2, 27.5), (0.228, 27.45), (0.245, 27.52), (0.188, 27.2), (0.205, 27.17), (0.222, 27.23),
    (0.24, 27.16), (0.256, 27.22), (0.183, 26.9), (0.2, 26.87), (0.215, 26.93), (0.232, 26.86),
    (0.248, 26.92), (0.264, 26.88), (0.19, 26.6), (0.206, 26.57), (0.222, 26.63), (0.238, 26.56),
    (0.255, 26.62), (0.183, 26.3), (0.2, 26.27), (0.215, 26.33), (0.232, 26.26), (0.248, 26.32),
    (0.264, 26.28), (0.19, 26.0), (0.206, 25.97), (0.222, 26.03), (0.238, 25.96), (0.255, 26.02),
    (0.183, 25.7), (0.2, 25.67), (0.215, 25.73), (0.232, 25.66), (0.248, 25.72), (0.264, 25.68),
    (0.19, 25.4), (0.206, 25.37), (0.222, 25.43), (0.238, 25.36), (0.255, 25.42), (0.183, 25.1),
    (0.2, 25.07), (0.215, 25.13), (0.232, 25.06), (0.248, 25.12), (0.264, 25.08), (0.192, 24.8),
    (0.21, 24.77), (0.228, 24.83), (0.245, 24.76), (0.26, 24.82)]
D_VEG = [
    (0.351, 30.79), (0.375, 30.04), (0.501, 29.49), (0.505, 28.62), (0.331, 29.69), (0.294, 29.4),
    (0.322, 29.33), (0.343, 29.16), (0.379, 29.06), (0.297, 28.85), (0.353, 28.6), (0.386, 28.6),
    (0.435, 28.84), (0.451, 28.55), (0.417, 28.45), (0.305, 28.41), (0.282, 28.24), (0.353, 28.17),
    (0.390, 28.1), (0.443, 28.17), (0.483, 27.99), (0.509, 27.82), (0.320, 27.7), (0.469, 27.77),
    (0.440, 27.67), (0.536, 27.04), (0.557, 26.54), (0.588, 26.26), (0.597, 26.36), (0.615, 25.79),
    (0.650, 25.69), (0.525, 26.0), (0.595, 25.58), (0.559, 25.58), (0.584, 24.77), (0.602, 24.7),
    (0.615, 24.49), (0.588, 24.35), (0.568, 24.42), (0.629, 23.78), (0.651, 23.78), (0.650, 23.52),
    (0.678, 23.52), (0.692, 23.47), (0.699, 22.9), (0.668, 22.69), (0.611, 23.28), (0.602, 22.93),
    (0.642, 23.07), (0.577, 22.72), (0.570, 22.12), (0.595, 22.08), (0.606, 21.72), (0.619, 21.44),
    (0.629, 21.33), (0.642, 21.3), (0.663, 21.61), (0.676, 21.33), (0.685, 20.85), (0.694, 20.85),
    (0.642, 20.76), (0.559, 20.87), (0.561, 20.69), (0.528, 20.95), (0.549, 21.37), (0.543, 21.87),
    (0.489, 21.8), (0.446, 21.37), (0.300, 21.94), (0.308, 21.56), (0.318, 21.09), (0.357, 22.55),
    (0.401, 22.43), (0.433, 22.65), (0.467, 22.58), (0.516, 22.4), (0.498, 22.65), (0.298, 22.93),
    (0.318, 22.97), (0.347, 23.07), (0.300, 23.5), (0.280, 23.82), (0.312, 23.5),
    (0.3, 27.7), (0.33, 27.6), (0.36, 27.8), (0.4, 27.6), (0.42, 27.9), (0.46, 27.6),
    (0.29, 27.9), (0.38, 28.3), (0.34, 28.0), (0.57, 23.45), (0.585, 23.6), (0.57, 23.75),
    (0.58, 24.0), (0.575, 24.3), (0.585, 24.55), (0.57, 24.9), (0.58, 25.2), (0.57, 25.5),
    (0.565, 23.15), (0.58, 22.9), (0.59, 23.3), (0.31, 27.55), (0.35, 27.5), (0.39, 27.55),
    (0.44, 27.5), (0.48, 27.45), (0.285, 27.6)]
D_VEG_ROWS = [
    (27.35, [0.28, 0.3, 0.32, 0.345, 0.37, 0.4, 0.43, 0.46, 0.49, 0.51]),
    (27.05, [0.275, 0.292, 0.31, 0.327, 0.344, 0.361, 0.378, 0.395, 0.412, 0.43, 0.447, 0.464, 0.48, 0.5, 0.52]),
    (26.75, [0.283, 0.3, 0.318, 0.335, 0.352, 0.37, 0.387, 0.404, 0.421, 0.438, 0.455, 0.472, 0.49, 0.507, 0.525]),
    (26.45, [0.275, 0.292, 0.31, 0.327, 0.344, 0.361, 0.378, 0.395, 0.412, 0.43, 0.447, 0.464, 0.48, 0.5, 0.517, 0.535]),
    (26.15, [0.283, 0.3, 0.318, 0.335, 0.352, 0.37, 0.387, 0.404, 0.421, 0.438, 0.455, 0.472, 0.49, 0.507, 0.525, 0.54]),
    (25.85, [0.275, 0.292, 0.31, 0.327, 0.344, 0.361, 0.378, 0.395, 0.412, 0.43, 0.447, 0.464, 0.48, 0.5, 0.517, 0.535, 0.555]),
    (25.55, [0.283, 0.3, 0.318, 0.335, 0.352, 0.37, 0.387, 0.404, 0.421, 0.438, 0.455, 0.472, 0.49, 0.507, 0.525, 0.545]),
    (25.25, [0.275, 0.292, 0.31, 0.327, 0.344, 0.361, 0.378, 0.395, 0.412, 0.43, 0.447, 0.464, 0.48, 0.5, 0.517, 0.535, 0.555]),
    (24.95, [0.283, 0.3, 0.318, 0.335, 0.352, 0.37, 0.387, 0.404, 0.421, 0.438, 0.455, 0.472, 0.49, 0.507, 0.525, 0.545]),
    (24.65, [0.28, 0.292, 0.31, 0.327, 0.344, 0.361, 0.378, 0.395, 0.412, 0.43, 0.447, 0.464, 0.48, 0.5, 0.517, 0.535, 0.56]),
    (24.35, [0.29, 0.305, 0.322, 0.34, 0.357, 0.374, 0.391, 0.408, 0.425, 0.442, 0.459, 0.476, 0.493, 0.51, 0.527, 0.545]),
    (24.05, [0.3, 0.315, 0.332, 0.35, 0.367, 0.384, 0.401, 0.418, 0.435, 0.452, 0.469, 0.486, 0.503, 0.52, 0.54, 0.56]),
    (23.75, [0.325, 0.342, 0.36, 0.377, 0.394, 0.411, 0.428, 0.445, 0.462, 0.479, 0.496, 0.513, 0.53, 0.55]),
    (23.45, [0.33, 0.35, 0.365, 0.39, 0.41, 0.43, 0.45, 0.47, 0.49, 0.51, 0.53, 0.55]),
    (23.15, [0.34, 0.37, 0.4, 0.425, 0.455, 0.485, 0.51, 0.54]),
    (22.85, [0.35, 0.37, 0.39, 0.41, 0.43, 0.45, 0.47, 0.49, 0.51, 0.53, 0.55, 0.57]),
    (22.55, [0.38, 0.4, 0.42, 0.44, 0.46, 0.48, 0.5, 0.52, 0.54, 0.56]),
    (22.3, [0.42, 0.45, 0.48, 0.51, 0.54])]

# ---------------- (e) Win 2014 ----------------
E_WATER = [
    (-0.116, 22.21), (-0.111, 22.25), (-0.095, 22.42), (-0.089, 22.53), (-0.092, 22.34), (-0.086, 22.23),
    (-0.081, 22.12), (-0.070, 22.04), (-0.075, 22.36), (-0.071, 22.38), (-0.058, 22.21), (-0.052, 22.27),
    (-0.041, 22.27), (-0.019, 22.36), (-0.077, 22.89), (-0.051, 23.01), (-0.064, 23.4), (-0.061, 23.5),
    (-0.026, 23.95), (-0.037, 24.38), (-0.018, 24.36), (-0.016, 26.16)]
E_BUILT = [
    (0.083, 28.19), (0.008, 27.86), (0.023, 27.97), (0.044, 27.84), (0.129, 27.75), (0.021, 27.46),
    (0.105, 27.54), (0.113, 27.58), (0.109, 27.39), (0.064, 27.39), (0.063, 27.2), (0.089, 27.24),
    (0.018, 27.0), (0.034, 26.87), (0.109, 26.9), (0.074, 26.87), (0.023, 26.69), (0.012, 26.39),
    (0.026, 26.42), (0.018, 25.89), (0.033, 25.78), (0.114, 26.16), (0.128, 25.71), (0.022, 25.37),
    (0.031, 25.27), (0.006, 24.91), (0.025, 24.76), (0.038, 24.67), (0.006, 24.42), (-0.005, 24.02),
    (0.026, 24.02), (0.035, 24.04), (-0.009, 23.61), (0.021, 23.7), (0.025, 23.6), (0.028, 23.3),
    (0.013, 23.05), (-0.008, 23.0), (0.031, 22.86), (0.006, 22.18), (0.051, 21.91), (0.025, 21.46),
    (0.079, 22.43), (0.089, 22.15), (0.092, 21.82), (0.098, 22.28), (0.117, 22.25), (0.125, 22.45),
    (0.085, 22.81), (0.099, 22.8), (0.101, 22.63), (0.123, 22.9), (0.067, 23.01), (0.057, 23.24),
    (0.05, 26.5), (0.07, 26.6), (0.09, 26.55), (0.1, 26.45), (0.112, 26.35), (0.122, 26.2),
    (0.128, 26.0), (0.055, 26.35), (0.08, 26.75), (0.095, 26.7), (0.044, 25.3), (0.046, 24.4)]
E_BUILT_ROWS = [
    (26.4, [0.065, 0.075, 0.085, 0.095]),
    (26.24, [0.06, 0.07, 0.08, 0.09, 0.1, 0.11]),
    (26.08, [0.056, 0.066, 0.076, 0.086, 0.096, 0.106]),
    (25.92, [0.052, 0.062, 0.072, 0.082, 0.092, 0.102, 0.112, 0.122]),
    (25.76, [0.048, 0.057, 0.067, 0.077, 0.087, 0.097, 0.107, 0.117, 0.127]),
    (25.6, [0.052, 0.061, 0.07, 0.079, 0.088, 0.097, 0.106, 0.115, 0.124]),
    (25.44, [0.048, 0.057, 0.066, 0.075, 0.084, 0.093, 0.102, 0.111, 0.12, 0.129]),
    (25.28, [0.052, 0.061, 0.07, 0.079, 0.088, 0.097, 0.106, 0.115, 0.124]),
    (25.12, [0.048, 0.057, 0.066, 0.075, 0.084, 0.093, 0.102, 0.111, 0.12, 0.129]),
    (24.96, [0.052, 0.061, 0.07, 0.079, 0.088, 0.097, 0.106, 0.115, 0.124]),
    (24.8, [0.048, 0.057, 0.066, 0.075, 0.084, 0.093, 0.102, 0.111, 0.12, 0.129]),
    (24.64, [0.052, 0.061, 0.07, 0.079, 0.088, 0.097, 0.106, 0.115, 0.124]),
    (24.48, [0.048, 0.057, 0.066, 0.075, 0.084, 0.093, 0.102, 0.111, 0.12, 0.129]),
    (24.32, [0.052, 0.061, 0.07, 0.079, 0.088, 0.097, 0.106, 0.115, 0.124]),
    (24.16, [0.048, 0.057, 0.066, 0.075, 0.084, 0.093, 0.102, 0.111, 0.12, 0.129]),
    (24.0, [0.052, 0.061, 0.07, 0.079, 0.088, 0.097, 0.106, 0.115, 0.124]),
    (23.84, [0.055, 0.064, 0.073, 0.082, 0.091, 0.1, 0.109, 0.118, 0.127]),
    (23.68, [0.058, 0.067, 0.076, 0.085, 0.094, 0.103, 0.112, 0.121, 0.13]),
    (23.52, [0.06, 0.069, 0.078, 0.087, 0.096, 0.105, 0.114, 0.123]),
    (23.36, [0.064, 0.073, 0.082, 0.091, 0.1, 0.109, 0.118, 0.127]),
    (23.2, [0.07, 0.079, 0.088, 0.097, 0.106, 0.115, 0.124]),
    (23.04, [0.075, 0.085, 0.095, 0.105, 0.118]),
    (22.9, [0.08, 0.1, 0.12])]
E_BARE = [
    (0.143, 27.24), (0.146, 26.84), (0.167, 26.75), (0.155, 26.66), (0.137, 26.38), (0.143, 26.3),
    (0.165, 26.42), (0.172, 26.25), (0.159, 26.1), (0.174, 26.04), (0.146, 25.93), (0.143, 22.13),
    (0.172, 22.19), (0.169, 21.91), (0.147, 21.57), (0.165, 21.5), (0.155, 22.45),
    (0.14, 25.95), (0.155, 25.9), (0.17, 26.0), (0.178, 25.8), (0.134, 23.0), (0.14, 22.7)]
E_BARE_ROWS = [
    (25.8, [0.135, 0.145, 0.16]),
    (25.64, [0.132, 0.141, 0.15, 0.159, 0.168, 0.177]),
    (25.48, [0.136, 0.145, 0.154, 0.163, 0.172, 0.18]),
    (25.32, [0.132, 0.141, 0.15, 0.159, 0.168, 0.177]),
    (25.16, [0.136, 0.145, 0.154, 0.163, 0.172, 0.18]),
    (25.0, [0.132, 0.141, 0.15, 0.159, 0.168, 0.177]),
    (24.84, [0.136, 0.145, 0.154, 0.163, 0.172, 0.18]),
    (24.68, [0.132, 0.141, 0.15, 0.159, 0.168, 0.177]),
    (24.52, [0.136, 0.145, 0.154, 0.163, 0.172, 0.18]),
    (24.36, [0.132, 0.141, 0.15, 0.159, 0.168, 0.177]),
    (24.2, [0.136, 0.145, 0.154, 0.163, 0.172, 0.18]),
    (24.04, [0.132, 0.141, 0.15, 0.159, 0.168, 0.177]),
    (23.88, [0.136, 0.145, 0.154, 0.163, 0.172, 0.18]),
    (23.72, [0.132, 0.141, 0.15, 0.159, 0.168, 0.177]),
    (23.56, [0.136, 0.145, 0.154, 0.163, 0.172, 0.18]),
    (23.4, [0.132, 0.141, 0.15, 0.159, 0.168, 0.177]),
    (23.24, [0.136, 0.145, 0.154, 0.163, 0.172, 0.18]),
    (23.08, [0.138, 0.147, 0.156, 0.165, 0.174]),
    (22.92, [0.142, 0.151, 0.16, 0.169, 0.178]),
    (22.76, [0.146, 0.155, 0.164, 0.173]),
    (22.6, [0.15, 0.16, 0.17]),
    (22.44, [0.155, 0.168])]
E_AGRI = [
    (0.192, 26.49), (0.188, 26.23), (0.193, 26.12), (0.205, 25.89), (0.225, 26.01), (0.214, 25.57),
    (0.183, 25.56), (0.191, 25.41), (0.227, 25.3), (0.238, 25.15), (0.251, 25.35), (0.265, 25.42),
    (0.256, 24.92), (0.192, 21.05), (0.198, 21.46), (0.207, 21.59), (0.229, 20.79), (0.239, 20.85),
    (0.254, 20.85), (0.259, 21.03), (0.266, 20.99), (0.246, 21.14), (0.243, 21.29), (0.248, 21.48),
    (0.225, 21.63), (0.237, 21.58), (0.22, 25.1), (0.235, 24.95), (0.266, 24.85), (0.19, 22.0),
    (0.265, 21.7)]
E_AGRI_ROWS = [
    (24.96, [0.184, 0.193, 0.202, 0.211]),
    (24.8, [0.182, 0.191, 0.2, 0.209, 0.218, 0.227, 0.245, 0.258]),
    (24.64, [0.182, 0.191, 0.2, 0.209, 0.218, 0.227, 0.236, 0.245, 0.254, 0.263]),
    (24.48, [0.186, 0.195, 0.204, 0.213, 0.222, 0.231, 0.24, 0.249, 0.258, 0.267]),
    (24.32, [0.182, 0.191, 0.2, 0.209, 0.218, 0.227, 0.236, 0.245, 0.254, 0.263]),
    (24.16, [0.186, 0.195, 0.204, 0.213, 0.222, 0.231, 0.24, 0.249, 0.258, 0.267]),
    (24.0, [0.182, 0.191, 0.2, 0.209, 0.218, 0.227, 0.236, 0.245, 0.254, 0.263]),
    (23.84, [0.186, 0.195, 0.204, 0.213, 0.222, 0.231, 0.24, 0.249, 0.258, 0.267]),
    (23.68, [0.182, 0.191, 0.2, 0.209, 0.218, 0.227, 0.236, 0.245, 0.254, 0.263]),
    (23.52, [0.186, 0.195, 0.204, 0.213, 0.222, 0.231, 0.24, 0.249, 0.258, 0.267]),
    (23.36, [0.182, 0.191, 0.2, 0.209, 0.218, 0.227, 0.236, 0.245, 0.254, 0.263]),
    (23.2, [0.186, 0.195, 0.204, 0.213, 0.222, 0.231, 0.24, 0.249, 0.258, 0.267]),
    (23.04, [0.182, 0.191, 0.2, 0.209, 0.218, 0.227, 0.236, 0.245, 0.254, 0.263]),
    (22.88, [0.186, 0.195, 0.204, 0.213, 0.222, 0.231, 0.24, 0.249, 0.258, 0.267]),
    (22.72, [0.182, 0.191, 0.2, 0.209, 0.218, 0.227, 0.236, 0.245, 0.254, 0.263]),
    (22.56, [0.186, 0.195, 0.204, 0.213, 0.222, 0.231, 0.24, 0.249, 0.258, 0.267]),
    (22.4, [0.182, 0.191, 0.2, 0.209, 0.218, 0.227, 0.236, 0.245, 0.254, 0.263]),
    (22.24, [0.186, 0.195, 0.204, 0.213, 0.222, 0.231, 0.24, 0.249, 0.258, 0.267]),
    (22.08, [0.195, 0.204, 0.213, 0.222, 0.231, 0.24, 0.249, 0.258, 0.267]),
    (21.92, [0.2, 0.209, 0.218, 0.227, 0.236, 0.245, 0.254, 0.263]),
    (21.76, [0.21, 0.222, 0.234, 0.246, 0.258])]
E_VEG = [
    (0.3, 25.2), (0.289, 25.09), (0.315, 25.12), (0.343, 24.81), (0.281, 24.66), (0.301, 24.25),
    (0.293, 23.99), (0.315, 23.54), (0.327, 23.4), (0.308, 23.43), (0.379, 23.19), (0.326, 23.09),
    (0.313, 22.94), (0.361, 22.72), (0.375, 22.72), (0.354, 22.55), (0.341, 22.55), (0.354, 22.0),
    (0.367, 22.0), (0.397, 21.83), (0.409, 21.8), (0.374, 21.53), (0.391, 21.18), (0.380, 20.81),
    (0.386, 20.51), (0.439, 20.9), (0.369, 20.92), (0.363, 21.11), (0.348, 21.0), (0.326, 20.49),
    (0.337, 20.55), (0.331, 20.68), (0.323, 20.85), (0.307, 20.92), (0.281, 20.81), (0.272, 21.2),
    (0.292, 21.29), (0.301, 21.52), (0.312, 21.29), (0.327, 21.41), (0.272, 21.44), (0.275, 21.8),
    (0.293, 21.76), (0.337, 21.74), (0.341, 21.53), (0.348, 21.59), (0.358, 21.74), (0.331, 21.98),
    (0.363, 21.52), (0.350, 21.22), (0.333, 21.14),
    (0.275, 24.4), (0.285, 24.38), (0.272, 24.2), (0.282, 24.18), (0.292, 24.22), (0.276, 24.0),
    (0.286, 23.98), (0.272, 23.8), (0.282, 23.78), (0.292, 23.82), (0.276, 23.6), (0.286, 23.58),
    (0.298, 23.62), (0.272, 23.4), (0.282, 23.38), (0.292, 23.42), (0.276, 23.2), (0.286, 23.18),
    (0.296, 23.22), (0.272, 23.0), (0.282, 22.98), (0.292, 23.02), (0.302, 22.97), (0.276, 22.8),
    (0.286, 22.78), (0.296, 22.82), (0.306, 22.77), (0.316, 22.81), (0.272, 22.6), (0.282, 22.58),
    (0.292, 22.62), (0.302, 22.57), (0.312, 22.61), (0.322, 22.58), (0.276, 22.4), (0.286, 22.38),
    (0.296, 22.42), (0.306, 22.37), (0.316, 22.41), (0.326, 22.38), (0.272, 22.2), (0.282, 22.18),
    (0.292, 22.22), (0.302, 22.17), (0.312, 22.21), (0.322, 22.18), (0.332, 22.22), (0.276, 22.0),
    (0.288, 21.98), (0.3, 22.02), (0.315, 21.97), (0.325, 22.01), (0.335, 21.98), (0.285, 21.8),
    (0.31, 21.78), (0.32, 21.82), (0.33, 21.77), (0.31, 23.6), (0.32, 22.95), (0.33, 22.75),
    (0.335, 22.4), (0.34, 22.2), (0.345, 21.9), (0.33, 23.3), (0.35, 22.3)]

# ---------------- (f) Win 2024 ----------------
F_WATER = [
    (-0.082, 24.06), (-0.077, 24.02), (-0.073, 24.15), (-0.071, 24.02), (-0.075, 23.96), (-0.068, 24.9),
    (-0.057, 23.83), (-0.048, 23.86), (-0.074, 23.43), (-0.041, 27.2), (-0.032, 26.89)]
F_BUILT = [
    (0.048, 33.72), (0.058, 33.79), (0.048, 32.81), (0.078, 32.49), (0.079, 32.39), (0.025, 31.82),
    (0.041, 31.86), (0.046, 31.77), (0.063, 31.83), (0.080, 31.8), (0.116, 31.67), (0.025, 31.5),
    (0.039, 31.42), (0.025, 31.35), (0.036, 31.23), (0.087, 31.29), (0.107, 31.29), (0.072, 31.16),
    (0.017, 30.59), (0.034, 30.72), (0.107, 30.97), (-0.015, 29.23), (-0.011, 28.85), (0.003, 28.8),
    (0.028, 28.48), (0.016, 28.0), (0.031, 28.03), (0.032, 27.69), (-0.014, 27.31), (0.043, 27.62),
    (0.033, 26.86), (0.041, 26.7), (0.010, 26.1), (0.057, 26.36), (0.063, 26.1), (0.055, 25.79),
    (0.056, 25.41), (-0.008, 25.44), (0.003, 25.03), (0.015, 24.56), (0.040, 24.65), (0.077, 24.93),
    (0.080, 25.09), (0.064, 24.36), (0.096, 24.27), (-0.008, 23.54), (0.016, 23.43), (0.096, 25.28),
    (0.118, 25.26), (0.112, 25.54), (0.075, 25.54),
    (0.055, 30.45), (0.07, 30.6), (0.085, 30.4), (0.095, 30.7), (0.105, 30.5), (0.118, 30.35),
    (0.125, 30.0), (0.065, 30.9), (0.08, 31.0),
    (0.06, 30.2), (0.075, 30.17), (0.09, 30.22), (0.1, 30.16), (0.11, 30.21), (0.048, 29.95),
    (0.06, 29.92), (0.07, 29.98), (0.08, 29.91), (0.092, 29.97), (0.104, 29.93), (0.116, 29.99),
    (0.055, 29.7), (0.066, 29.67), (0.077, 29.73), (0.088, 29.66), (0.099, 29.72), (0.11, 29.68),
    (0.121, 29.74), (0.045, 29.45), (0.056, 29.42), (0.067, 29.48), (0.078, 29.41), (0.089, 29.47),
    (0.1, 29.43), (0.111, 29.49), (0.122, 29.42), (0.05, 29.2), (0.061, 29.17), (0.072, 29.23),
    (0.083, 29.16), (0.094, 29.22), (0.105, 29.18), (0.116, 29.24), (0.127, 29.17), (0.045, 28.95),
    (0.056, 28.92), (0.067, 28.98), (0.078, 28.91), (0.089, 28.97), (0.1, 28.93), (0.111, 28.99),
    (0.122, 28.92), (0.13, 28.96), (0.05, 28.7), (0.061, 28.67), (0.072, 28.73), (0.083, 28.66),
    (0.094, 28.72), (0.105, 28.68), (0.116, 28.74), (0.127, 28.67), (0.056, 28.45), (0.067, 28.42),
    (0.078, 28.48), (0.089, 28.41), (0.1, 28.47), (0.111, 28.43), (0.122, 28.49), (0.13, 28.42),
    (0.05, 28.2), (0.061, 28.17), (0.072, 28.23), (0.083, 28.16), (0.094, 28.22), (0.105, 28.18),
    (0.116, 28.24), (0.127, 28.17), (0.056, 27.95), (0.067, 27.92), (0.078, 27.98), (0.089, 27.91),
    (0.1, 27.97), (0.111, 27.93), (0.122, 27.99), (0.13, 27.92), (0.061, 27.7), (0.072, 27.67),
    (0.083, 27.73), (0.094, 27.66), (0.105, 27.72), (0.116, 27.68), (0.127, 27.74), (0.056, 27.45),
    (0.067, 27.42), (0.078, 27.48), (0.089, 27.41), (0.1, 27.47), (0.111, 27.43), (0.122, 27.49),
    (0.13, 27.42), (0.061, 27.2), (0.072, 27.17), (0.083, 27.23), (0.094, 27.16), (0.105, 27.22),
    (0.116, 27.18), (0.127, 27.24), (0.066, 26.95), (0.077, 26.92), (0.088, 26.98), (0.099, 26.91),
    (0.11, 26.97), (0.121, 26.93), (0.13, 26.99), (0.07, 26.7), (0.081, 26.67), (0.092, 26.73),
    (0.103, 26.66), (0.114, 26.72), (0.125, 26.68), (0.075, 26.45), (0.086, 26.42), (0.097, 26.48),
    (0.108, 26.41), (0.119, 26.47), (0.13, 26.43), (0.08, 26.2), (0.092, 26.17), (0.104, 26.23),
    (0.116, 26.16), (0.127, 26.22), (0.085, 25.95), (0.1, 25.92), (0.112, 25.98), (0.125, 25.91),
    (0.09, 25.7), (0.105, 25.67), (0.12, 25.73)]
F_BARE = [
    (0.133, 30.53), (0.137, 30.97), (0.140, 31.06), (0.162, 30.7), (0.170, 30.28), (0.175, 30.15),
    (0.153, 30.34), (0.141, 30.03), (0.178, 29.08), (0.145, 24.06), (0.172, 23.6), (0.178, 23.93),
    (0.157, 24.78), (0.176, 24.97), (0.146, 25.09), (0.145, 29.85), (0.158, 29.8), (0.17, 29.75),
    (0.138, 29.6), (0.15, 29.57), (0.165, 29.63), (0.133, 29.35), (0.145, 29.32), (0.156, 29.38),
    (0.168, 29.31), (0.138, 29.1), (0.15, 29.07), (0.162, 29.13), (0.174, 29.06), (0.133, 28.85),
    (0.145, 28.82), (0.156, 28.88), (0.168, 28.81), (0.179, 28.87), (0.138, 28.6), (0.15, 28.57),
    (0.162, 28.63), (0.174, 28.56), (0.133, 28.35), (0.145, 28.32), (0.156, 28.38), (0.168, 28.31),
    (0.179, 28.37), (0.138, 28.1), (0.15, 28.07), (0.162, 28.13), (0.174, 28.06), (0.133, 27.85),
    (0.145, 27.82), (0.156, 27.88), (0.168, 27.81), (0.179, 27.87), (0.138, 27.6), (0.15, 27.57),
    (0.162, 27.63), (0.174, 27.56), (0.133, 27.35), (0.145, 27.32), (0.156, 27.38), (0.168, 27.31),
    (0.179, 27.37), (0.138, 27.1), (0.15, 27.07), (0.162, 27.13), (0.174, 27.06), (0.133, 26.85),
    (0.145, 26.82), (0.156, 26.88), (0.168, 26.81), (0.179, 26.87), (0.14, 26.6), (0.152, 26.57),
    (0.164, 26.63), (0.176, 26.56), (0.145, 26.35), (0.156, 26.32), (0.168, 26.38), (0.179, 26.31),
    (0.148, 26.1), (0.16, 26.07), (0.172, 26.13), (0.152, 25.85), (0.164, 25.82), (0.176, 25.88),
    (0.155, 25.6), (0.168, 25.57), (0.178, 25.63), (0.16, 25.35), (0.175, 25.32)]
F_AGRI = [
    (0.188, 31.38), (0.188, 30.15), (0.184, 29.87), (0.194, 29.04), (0.222, 29.29), (0.188, 28.76),
    (0.204, 28.76), (0.218, 28.51), (0.236, 28.26), (0.247, 28.51), (0.250, 28.32), (0.183, 24.08),
    (0.191, 23.83), (0.204, 23.98), (0.214, 24.15), (0.239, 24.02), (0.235, 23.73), (0.252, 23.83),
    (0.260, 23.77), (0.266, 24.08), (0.202, 23.1), (0.209, 23.3), (0.235, 22.88), (0.255, 23.26),
    (0.262, 22.72), (0.268, 24.72), (0.252, 24.9),
    (0.2, 28.2), (0.215, 28.17), (0.23, 28.23), (0.245, 28.16), (0.19, 27.95), (0.2, 27.92),
    (0.21, 27.98), (0.22, 27.91), (0.23, 27.97), (0.24, 27.93), (0.25, 27.99), (0.185, 27.7),
    (0.196, 27.67), (0.207, 27.73), (0.218, 27.66), (0.229, 27.72), (0.24, 27.68), (0.251, 27.74),
    (0.262, 27.67), (0.19, 27.45), (0.2, 27.42), (0.21, 27.48), (0.22, 27.41), (0.23, 27.47),
    (0.24, 27.43), (0.25, 27.49), (0.26, 27.42), (0.185, 27.2), (0.196, 27.17), (0.207, 27.23),
    (0.218, 27.16), (0.229, 27.22), (0.24, 27.18), (0.251, 27.24), (0.262, 27.17), (0.182, 26.95),
    (0.193, 26.92), (0.204, 26.98), (0.215, 26.91), (0.226, 26.97), (0.237, 26.93), (0.248, 26.99),
    (0.259, 26.92), (0.268, 26.96), (0.185, 26.7), (0.196, 26.67), (0.207, 26.73), (0.218, 26.66),
    (0.229, 26.72), (0.24, 26.68), (0.251, 26.74), (0.262, 26.67), (0.182, 26.45), (0.193, 26.42),
    (0.204, 26.48), (0.215, 26.41), (0.226, 26.47), (0.237, 26.43), (0.248, 26.49), (0.259, 26.42),
    (0.268, 26.46), (0.185, 26.2), (0.196, 26.17), (0.207, 26.23), (0.218, 26.16), (0.229, 26.22),
    (0.24, 26.18), (0.251, 26.24), (0.262, 26.17), (0.182, 25.95), (0.193, 25.92), (0.204, 25.98),
    (0.215, 25.91), (0.226, 25.97), (0.237, 25.93), (0.248, 25.99), (0.259, 25.92), (0.268, 25.96),
    (0.185, 25.7), (0.196, 25.67), (0.207, 25.73), (0.218, 25.66), (0.229, 25.72), (0.24, 25.68),
    (0.251, 25.74), (0.262, 25.67), (0.182, 25.45), (0.193, 25.42), (0.204, 25.48), (0.215, 25.41),
    (0.226, 25.47), (0.237, 25.43), (0.248, 25.49), (0.259, 25.42), (0.268, 25.46), (0.185, 25.2),
    (0.196, 25.17), (0.207, 25.23), (0.218, 25.16), (0.229, 25.22), (0.24, 25.18), (0.251, 25.24),
    (0.262, 25.17), (0.19, 24.95), (0.2, 24.92), (0.21, 24.98), (0.22, 24.91), (0.23, 24.97),
    (0.24, 24.93), (0.26, 24.99), (0.195, 24.7), (0.21, 24.67), (0.225, 24.73), (0.24, 24.66),
    (0.255, 24.72), (0.205, 24.45), (0.22, 24.42), (0.235, 24.48), (0.25, 24.41), (0.265, 24.47)]
F_VEG = [
    (0.274, 28.61), (0.276, 27.33), (0.271, 26.89), (0.291, 26.55), (0.278, 26.51), (0.320, 26.42),
    (0.346, 26.42), (0.318, 26.17), (0.308, 25.92), (0.336, 25.85), (0.353, 25.66), (0.371, 25.6),
    (0.376, 25.39), (0.353, 25.28), (0.392, 24.82), (0.395, 24.72), (0.364, 24.4), (0.361, 24.2),
    (0.399, 23.98), (0.411, 23.8), (0.414, 24.27), (0.379, 23.48), (0.364, 23.7), (0.343, 23.86),
    (0.340, 23.58), (0.388, 23.05), (0.371, 22.97), (0.361, 23.1), (0.379, 22.69), (0.408, 23.3),
    (0.408, 23.17), (0.410, 22.76), (0.347, 22.31), (0.361, 22.12), (0.324, 21.96), (0.331, 21.87),
    (0.275, 21.96), (0.275, 22.29), (0.271, 23.22), (0.283, 23.01), (0.283, 22.67), (0.300, 22.82),
    (0.300, 22.69), (0.310, 22.5), (0.321, 22.57), (0.333, 22.5), (0.311, 22.31), (0.317, 22.72),
    (0.305, 23.39), (0.313, 23.32), (0.324, 23.39), (0.334, 23.58), (0.329, 23.96),
    (0.275, 26.3), (0.285, 26.27), (0.295, 26.33), (0.278, 26.05), (0.29, 26.02), (0.3, 26.08),
    (0.275, 25.8), (0.286, 25.77), (0.3, 25.83), (0.315, 25.76), (0.28, 25.55), (0.292, 25.52),
    (0.305, 25.58), (0.318, 25.51), (0.33, 25.57), (0.275, 25.3), (0.288, 25.27), (0.3, 25.33),
    (0.312, 25.26), (0.325, 25.32), (0.338, 25.28), (0.35, 25.34), (0.28, 25.05), (0.292, 25.02),
    (0.305, 25.08), (0.318, 25.01), (0.33, 25.07), (0.342, 25.03), (0.275, 24.8), (0.288, 24.77),
    (0.3, 24.83), (0.312, 24.76), (0.325, 24.82), (0.338, 24.78), (0.35, 24.84), (0.28, 24.55),
    (0.292, 24.52), (0.305, 24.58), (0.318, 24.51), (0.33, 24.57), (0.342, 24.53), (0.355, 24.59),
    (0.278, 24.3), (0.29, 24.27), (0.302, 24.33), (0.314, 24.26), (0.326, 24.32), (0.34, 24.28),
    (0.352, 24.34), (0.285, 24.05), (0.298, 24.02), (0.31, 24.08), (0.322, 24.01), (0.335, 24.07),
    (0.348, 24.03), (0.292, 23.8), (0.305, 23.77), (0.318, 23.83), (0.33, 23.76), (0.288, 23.55),
    (0.3, 23.52), (0.31, 23.58), (0.325, 23.51), (0.345, 24.9), (0.36, 24.75), (0.37, 24.4),
    (0.35, 25.5), (0.365, 25.0)]

# axis ticks
X_TICKS_WIDE = [-0.2, 0.0, 0.2, 0.4, 0.6, 0.8]
X_MINOR_WIDE = [-0.3, -0.1, 0.1, 0.3, 0.5, 0.7, 0.9]
X_TICKS_NARROW = [-0.2, -0.1, 0.0, 0.1, 0.2, 0.3, 0.4, 0.5]
X_MINOR_NARROW = [-0.2, -0.15, -0.1, -0.05, 0.0, 0.05, 0.1, 0.15, 0.2, 0.25, 0.3, 0.35, 0.4, 0.45, 0.5, 0.55]
Y_TICKS_A = [26, 28, 30, 32, 34, 36, 38, 40, 42, 44, 46, 48]
Y_MINOR_A = [27, 29, 31, 33, 35, 37, 39, 41, 43, 45, 47]
Y_TICKS_B = [28, 30, 32, 34, 36, 38, 40, 42, 44, 46]
Y_MINOR_B = [29, 31, 33, 35, 37, 39, 41, 43, 45]
Y_TICKS_C = [26, 28, 30, 32, 34, 36, 38, 40, 42, 44, 46]
Y_MINOR_C = [27, 29, 31, 33, 35, 37, 39, 41, 43, 45, 47]
Y_TICKS_D = [18, 20, 22, 24, 26, 28, 30, 32, 34, 36]
Y_MINOR_D = [19, 21, 23, 25, 27, 29, 31, 33, 35]
Y_TICKS_E = [20, 21, 22, 23, 24, 25, 26, 27, 28, 29]
Y_MINOR_E = [19.5, 20.5, 21.5, 22.5, 23.5, 24.5, 25.5, 26.5, 27.5, 28.5]
Y_TICKS_F = [20, 22, 24, 26, 28, 30, 32, 34, 36]
Y_MINOR_F = [21, 23, 25, 27, 29, 31, 33, 35]


def with_rows(points, rows=()):
    return points + [(x, y) for y, xs in rows for x in xs]


PANELS = [
    ("(a) Sum 2004", [A_WATER, A_BUILT, A_BARE, A_AGRI, A_VEG], (-0.3, 0.9), (26, 48),
     X_TICKS_WIDE, X_MINOR_WIDE, Y_TICKS_A, Y_MINOR_A, "LST(\u2070C)"),
    ("(b) Sum 2014", [B_WATER, with_rows(B_BUILT, B_BUILT_ROWS), with_rows(B_BARE, B_BARE_ROWS),
                      with_rows(B_AGRI, B_AGRI_ROWS), B_VEG], (-0.15, 0.5), (28, 46),
     X_TICKS_NARROW, X_MINOR_NARROW, Y_TICKS_B, Y_MINOR_B, "LST (\u2070C)"),
    ("(c) Sum 2024", [C_WATER, C_BUILT, C_BARE, C_AGRI, C_VEG], (-0.2, 0.55), (26, 47),
     X_TICKS_NARROW, X_MINOR_NARROW, Y_TICKS_C, Y_MINOR_C, "LST(\u2070C)"),
    ("(d) Win 2004", [D_WATER, D_BUILT, D_BARE, D_AGRI, with_rows(D_VEG, D_VEG_ROWS)],
     (-0.3, 0.9), (18, 36), X_TICKS_WIDE, X_MINOR_WIDE, Y_TICKS_D, Y_MINOR_D, "LST(\u2070C)"),
    ("(e) Win 2014", [E_WATER, with_rows(E_BUILT, E_BUILT_ROWS), with_rows(E_BARE, E_BARE_ROWS),
                      with_rows(E_AGRI, E_AGRI_ROWS), E_VEG], (-0.2, 0.5), (19.5, 29),
     X_TICKS_NARROW, X_MINOR_NARROW, Y_TICKS_E, Y_MINOR_E, "LST(\u2070C)"),
    ("(f) Win 2024", [F_WATER, F_BUILT, F_BARE, F_AGRI, F_VEG], (-0.2, 0.5), (20, 36),
     X_TICKS_NARROW, X_MINOR_NARROW, Y_TICKS_F, Y_MINOR_F, "LST(\u2070C)"),
]

# frame w, frame h, border left/right/top/bottom, title offset right/top
GEOM = [
    (1207, 973, 175, 30, 31, 186, 68, 24),
    (1220, 982, 170, 40, 41, 167, 59, 14),
    (1221, 982, 161, 25, 41, 167, 61, 14),
    (1204, 973, 169, 39, 60, 209, 68, 36),
    (1205, 970, 179, 46, 66, 206, 62, 30),
    (1201, 969, 168, 38, 64, 209, 61, 32),
]

FONT = "Liberation Serif"


def px(v):
    return int(round(v * S))


def make_panel(spec, geom):
    title, groups, xr, yr, xt, xm, yt, ym, ylab = spec
    fw, fh, bl, br, bt, bb, tdx, tdy = geom
    p = figure(frame_width=px(fw), frame_height=px(fh),
               min_border_left=px(bl), min_border_right=px(br),
               min_border_top=px(bt), min_border_bottom=px(bb),
               x_range=Range1d(*xr), y_range=Range1d(*yr),
               tools="", toolbar_location=None, output_backend="svg")
    p.xgrid.visible = False
    p.ygrid.visible = False
    p.outline_line_color = "black"
    p.outline_line_width = 3
    p.outline_line_alpha = 1.0

    for pts, color in zip(groups, COLORS):
        p.scatter([q[0] for q in pts], [q[1] for q in pts], size=21 * S,
                  fill_color=color, line_color=None)

    p.xaxis.ticker = FixedTicker(ticks=xt, minor_ticks=xm)
    p.yaxis.ticker = FixedTicker(ticks=yt, minor_ticks=ym)
    p.xaxis.formatter = NumeralTickFormatter(format="0.0")
    p.yaxis.formatter = NumeralTickFormatter(format="0")
    for ax in (p.xaxis[0], p.yaxis[0]):
        ax.axis_line_width = 3
        ax.major_tick_line_width = 3
        ax.minor_tick_line_width = 2
        ax.major_tick_out = px(14)
        ax.major_tick_in = 0
        ax.minor_tick_out = px(8)
        ax.minor_tick_in = 0
        ax.major_label_text_font = FONT
        ax.major_label_text_font_style = "bold"
        ax.major_label_text_font_size = f"{px(50)}px"
        ax.major_label_text_color = "black"
        ax.axis_label_text_font = FONT
        ax.axis_label_text_font_style = "bold"
        ax.axis_label_text_font_size = f"{px(56)}px"
        ax.axis_label_text_color = "black"
    p.xaxis.axis_label = "NDVI"
    p.yaxis.axis_label = ylab
    p.xaxis.major_label_standoff = px(16)
    p.yaxis.major_label_standoff = px(14)
    p.xaxis.axis_label_standoff = px(30)
    p.yaxis.axis_label_standoff = px(14)

    p.add_layout(Label(x=xr[1], y=yr[1], x_offset=-px(tdx), y_offset=-px(tdy), text=title,
                       text_align="right", text_baseline="top", text_font=FONT,
                       text_font_size=f"{px(90)}px", text_color="black"))
    return p


figs = [make_panel(s, g) for s, g in zip(PANELS, GEOM)]

# legend strip: the class renderers sit outside this strip's ranges, only their keys show
leg = figure(width=px(4249), height=px(200), x_axis_location=None, y_axis_location=None,
             x_range=Range1d(0, 1), y_range=Range1d(0, 1),
             tools="", toolbar_location=None, output_backend="svg", min_border=0)
leg.outline_line_color = None
leg.xgrid.visible = False
leg.ygrid.visible = False
items = []
for name, pts, color in zip(CLASSES, [A_WATER, A_BUILT, A_BARE, A_AGRI, A_VEG], COLORS):
    r = leg.scatter([q[0] for q in pts], [q[1] for q in pts], size=21 * S,
                    fill_color=color, line_color=None)
    items.append(LegendItem(label=name, renderers=[r]))
legend = Legend(items=items, orientation="horizontal", location=(px(723), px(6)),
                glyph_width=px(130), glyph_height=px(130), label_standoff=px(60),
                spacing=px(16), padding=px(6), margin=0,
                border_line_color="black", border_line_width=3,
                label_text_font=FONT, label_text_font_style="bold",
                label_text_font_size=f"{px(86)}px", label_text_color="black",
                background_fill_color="white")
leg.add_layout(legend, "center")

layout = column(row(figs[0], figs[1], figs[2]), row(figs[3], figs[4], figs[5]), leg)

open("out.html", "w").write(file_html(layout, INLINE))
